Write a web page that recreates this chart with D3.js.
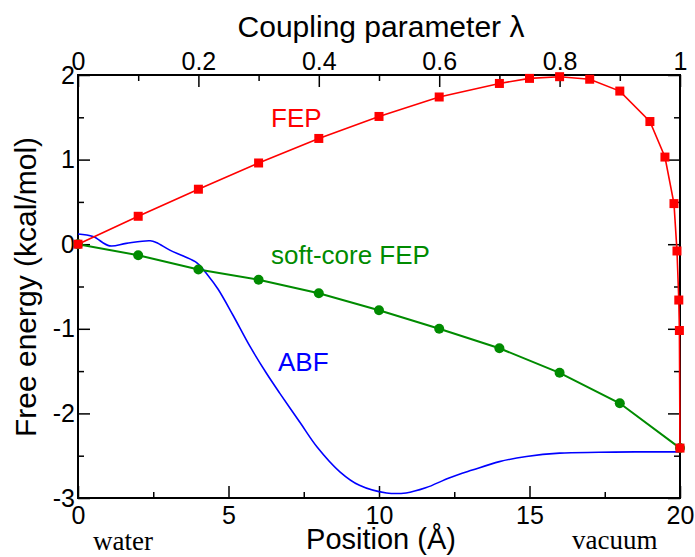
<!DOCTYPE html>
<html>
<head>
<meta charset="utf-8">
<script src="https://cdn.jsdelivr.net/npm/d3@7"></script>
<style>
  body { margin: 0; background: #fff; }
  text { font-family: 'Liberation Sans', Arial, Helvetica, sans-serif; }
  .tick line { stroke: #000; stroke-width: 1.5; }
  .serif { font-family: 'Liberation Serif', 'Times New Roman', serif; }
</style>
</head>
<body>
<svg id="chart" width="695" height="557"></svg>
<script>
// values

// FEP (coupling parameter lambda on the top axis)
const fepLambda = [0, 0.1, 0.2, 0.3, 0.4, 0.5, 0.6, 0.7, 0.75, 0.8, 0.85, 0.9, 0.95, 0.975, 0.99, 0.995, 0.998, 0.999, 1.0];
const fepEnergy = [0, 0.33, 0.65, 0.96, 1.25, 1.51, 1.74, 1.90, 1.96, 1.98, 1.95, 1.81, 1.45, 1.03, 0.48, -0.08, -0.66, -1.02, -2.41];

// soft-core FEP
const softLambda = [0, 0.1, 0.2, 0.3, 0.4, 0.5, 0.6, 0.7, 0.8, 0.9, 1.0];
const softEnergy = [0, -0.13, -0.30, -0.42, -0.58, -0.78, -1.00, -1.23, -1.52, -1.88, -2.41];

// ABF (position in angstrom on the bottom axis)
const abfPosition = [0, 0.5, 1.05, 1.6, 2.4, 2.6, 3.05, 3.5, 3.95, 4.3, 4.65, 5.15, 5.7, 6.25, 6.7, 7.4, 7.95,
                     8.7, 9.35, 10.25, 10.9, 11.55, 12.35, 13.1, 14.0, 14.9, 16.0, 17.3, 18.5, 20.0];
const abfEnergy = [0.12, 0.09, -0.02, 0.01, 0.04, 0.02, -0.07, -0.14, -0.22, -0.36, -0.53, -0.84, -1.2, -1.52, -1.76, -2.12, -2.40,
                   -2.69, -2.85, -2.94, -2.94, -2.88, -2.76, -2.67, -2.57, -2.51, -2.47, -2.46, -2.455, -2.455];

// tick labels
const positionTicks = [0, 5, 10, 15, 20];
const positionMinor = [2.5, 7.5, 12.5, 17.5];
const lambdaTicks = [0, 0.2, 0.4, 0.6, 0.8, 1];
const lambdaMinor = [0.1, 0.3, 0.5, 0.7, 0.9];
const energyTicks = [2, 1, 0, -1, -2, -3];
const energyMinor = [1.5, 0.5, -0.5, -1.5, -2.5];

const margin = { top: 75, bottom: 59, left: 78, right: 15 };
const width = 695;
const height = 557;
const red = '#ff0000';
const green = '#008b00';
const blue = '#0000ff';

const svg = d3.select('#chart');

const x = d3.scaleLinear()
            .domain([0, 20])
            .range([margin.left, width - margin.right]);

const lam = d3.scaleLinear()
              .domain([0, 1])
              .range([margin.left, width - margin.right]);

const y = d3.scaleLinear()
            .domain([-3, 2])
            .range([height - margin.bottom, margin.top]);

drawAxes();
drawCurves();
drawTitles();

function addAxis(axis, transform, fontSize) {
  const g = svg.append('g')
               .attr('transform', transform)
               .call(axis);
  g.select('.domain').remove();
  g.selectAll('text')
   .attr('font-size', fontSize)
   .attr('font-family', null)
   .attr('fill', '#000');
  return g;
}

function drawAxes() {
  const fs = 25;
  const bottom = 'translate(0,' + y.range()[0] + ')';
  const top = 'translate(0,' + y.range()[1] + ')';
  const left = 'translate(' + x.range()[0] + ',0)';
  const right = 'translate(' + x.range()[1] + ',0)';
  // plain hyphen for negative labels, like the original
  const label = d => String(d);

  // bottom (position)
  addAxis(d3.axisBottom(x).tickValues(positionTicks).tickSize(-12).tickPadding(8).tickFormat(label), bottom, fs);
  addAxis(d3.axisBottom(x).tickValues(positionMinor).tickSize(-6).tickFormat(''), bottom, fs);

  // top (lambda)
  addAxis(d3.axisTop(lam).tickValues(lambdaTicks).tickSize(-12).tickPadding(5).tickFormat(label), top, fs);
  addAxis(d3.axisTop(lam).tickValues(lambdaMinor).tickSize(-6).tickFormat(''), top, fs);

  // left / right (energy)
  addAxis(d3.axisLeft(y).tickValues(energyTicks).tickSize(-12).tickPadding(3).tickFormat(label), left, fs);
  addAxis(d3.axisLeft(y).tickValues(energyMinor).tickSize(-6).tickFormat(''), left, fs);
  addAxis(d3.axisRight(y).tickValues(energyTicks).tickSize(-12).tickFormat(''), right, fs);
  addAxis(d3.axisRight(y).tickValues(energyMinor).tickSize(-6).tickFormat(''), right, fs);

  // frame
  svg.append('rect')
     .attr('x', x.range()[0])
     .attr('y', y.range()[1])
     .attr('width', x.range()[1] - x.range()[0])
     .attr('height', y.range()[0] - y.range()[1])
     .attr('fill', 'none')
     .attr('stroke', '#000')
     .attr('stroke-width', 2);
}

function drawCurves() {
  const abf = abfPosition.map((p, i) => ({ x: p, y: abfEnergy[i] }));
  const soft = softLambda.map((l, i) => ({ x: l, y: softEnergy[i] }));
  const fep = fepLambda.map((l, i) => ({ x: l, y: fepEnergy[i] }));

  // ABF
  svg.append('path')
     .datum(abf)
     .attr('fill', 'none')
     .attr('stroke', blue)
     .attr('stroke-width', 1.6)
     .attr('d', d3.line().x(d => x(d.x)).y(d => y(d.y)).curve(d3.curveCatmullRom.alpha(0.5)));

  // soft-core FEP
  svg.append('path')
     .datum(soft)
     .attr('fill', 'none')
     .attr('stroke', green)
     .attr('stroke-width', 2)
     .attr('d', d3.line().x(d => lam(d.x)).y(d => y(d.y)));

  svg.append('g')
     .selectAll('circle')
     .data(soft)
     .enter()
     .append('circle')
     .attr('cx', d => lam(d.x))
     .attr('cy', d => y(d.y))
     .attr('r', 5)
     .attr('fill', green);

  // FEP
  svg.append('path')
     .datum(fep)
     .attr('fill', 'none')
     .attr('stroke', red)
     .attr('stroke-width', 1.6)
     .attr('d', d3.line().x(d => lam(d.x)).y(d => y(d.y)));

  svg.append('g')
     .selectAll('rect')
     .data(fep)
     .enter()
     .append('rect')
     .attr('x', d => lam(d.x) - 4.5)
     .attr('y', d => y(d.y) - 4.5)
     .attr('width', 9)
     .attr('height', 9)
     .attr('fill', red);
}

function drawTitles() {
  svg.append('text')
     .attr('x', 381)
     .attr('y', 37)
     .attr('text-anchor', 'middle')
     .attr('font-size', 30)
     .text('Coupling parameter λ');

  svg.append('text')
     .attr('x', 381)
     .attr('y', 549)
     .attr('text-anchor', 'middle')
     .attr('font-size', 29)
     .text('Position (Å)');

  svg.append('text')
     .attr('transform', 'translate(36,287) rotate(-90)')
     .attr('text-anchor', 'middle')
     .attr('font-size', 30)
     .text('Free energy (kcal/mol)');

  svg.append('text')
     .attr('class', 'serif')
     .attr('x', 93)
     .attr('y', 550)
     .attr('font-size', 27)
     .text('water');

  svg.append('text')
     .attr('class', 'serif')
     .attr('x', 572)
     .attr('y', 549)
     .attr('font-size', 27)
     .text('vacuum');

  // series labels
  svg.append('text')
     .attr('x', 271)
     .attr('y', 127)
     .attr('font-size', 26)
     .attr('fill', red)
     .text('FEP');

  svg.append('text')
     .attr('x', 271)
     .attr('y', 264)
     .attr('font-size', 26)
     .attr('fill', green)
     .text('soft-core FEP');

  svg.append('text')
     .attr('x', 278)
     .attr('y', 371)
     .attr('font-size', 26)
     .attr('fill', blue)
     .text('ABF');
}
</script>
</body>
</html>
